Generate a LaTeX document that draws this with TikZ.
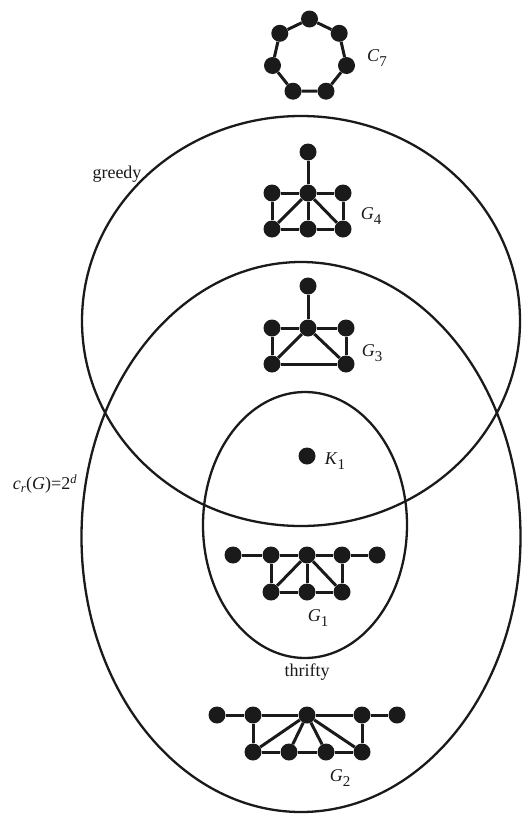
\documentclass[tikz,border=0pt]{standalone}
\usepackage{fontspec}
\setmainfont{Liberation Serif}
\definecolor{ink}{HTML}{1A1A1A}

% graph name with a lowered index
\newcommand{\gname}[2]{\textit{#1}\raisebox{-.6ex}{\fontsize{15}{15}\selectfont #2}}

\begin{document}
\begin{tikzpicture}[x=1pt,y=-1pt,
  every node/.style={text=ink,font=\fontsize{18}{21}\selectfont,inner sep=1pt},
  vtx/.style={circle,fill=ink,inner sep=0pt,minimum size=17pt},
  edge/.style={draw=ink,line width=3pt},
  region/.style={draw=ink,line width=2.3pt}]

\useasboundingbox (0,0) rectangle (522,814);

% -------------------------------------------------------------------------
% Regions: greedy, c_r(G)=2^d and thrifty.
% -------------------------------------------------------------------------
\draw[region] (301,321) ellipse [x radius=219pt, y radius=205pt];
\draw[region] (301,537) ellipse [x radius=219.5pt, y radius=275pt];
\draw[region] (305,525) ellipse [x radius=102pt, y radius=133pt];
\node (greedy)  at (117,174) {greedy};
\node (thrifty) at (307,672) {thrifty};
\node (cr)      at (45,484)
  {\textit{c}\textsubscript{\textit{r}}(\textit{G})=2\textsuperscript{\textit{d}}};

% -------------------------------------------------------------------------
% C_7, outside every region.
% -------------------------------------------------------------------------
\node[vtx] (c1) at (309.5,19) {};
\node[vtx] (c2) at (339.2,33.3) {};
\node[vtx] (c3) at (346.5,65.5) {};
\node[vtx] (c4) at (326,91.2) {};
\node[vtx] (c5) at (293,91.2) {};
\node[vtx] (c6) at (272.5,65.5) {};
\node[vtx] (c7) at (279.8,33.3) {};
\draw[edge] (c1) -- (c2) -- (c3) -- (c4) -- (c5) -- (c6) -- (c7) -- (c1);
\node (lc7) at (377,58) {\gname{C}{7}};

% -------------------------------------------------------------------------
% G_4 (greedy only) and G_3 (greedy and 2^d).
% -------------------------------------------------------------------------
\node[vtx] (a0) at (308,152) {};
\node[vtx] (a1) at (272,193) {};
\node[vtx] (a2) at (308,193) {};
\node[vtx] (a3) at (343,193) {};
\node[vtx] (a4) at (272,229) {};
\node[vtx] (a5) at (308,229) {};
\node[vtx] (a6) at (343,229) {};
\draw[edge] (a0) -- (a2);
\draw[edge] (a1) -- (a2) -- (a3);
\draw[edge] (a4) -- (a5) -- (a6);
\draw[edge] (a1) -- (a4);
\draw[edge] (a3) -- (a6);
\draw[edge] (a2) -- (a4);
\draw[edge] (a2) -- (a5);
\draw[edge] (a2) -- (a6);
\node (lg4) at (371,216) {\gname{G}{4}};

\node[vtx] (b0) at (308,286) {};
\node[vtx] (b1) at (272,328) {};
\node[vtx] (b2) at (308,328) {};
\node[vtx] (b3) at (346,328) {};
\node[vtx] (b4) at (272,364) {};
\node[vtx] (b5) at (346,364) {};
\draw[edge] (b0) -- (b2);
\draw[edge] (b1) -- (b2) -- (b3);
\draw[edge] (b1) -- (b4) -- (b5) -- (b3);
\draw[edge] (b2) -- (b4);
\draw[edge] (b2) -- (b5);
\node (lg3) at (372,353) {\gname{G}{3}};

% -------------------------------------------------------------------------
% K_1 and G_1 (thrifty), G_2 (2^d only).
% -------------------------------------------------------------------------
\node[vtx] (k) at (307,456) {};
\node (lk1) at (335,461) {\gname{K}{1}};

\node[vtx] (d1) at (233,555) {};
\node[vtx] (d2) at (271,555) {};
\node[vtx] (d3) at (307,555) {};
\node[vtx] (d4) at (342,555) {};
\node[vtx] (d5) at (377,555) {};
\node[vtx] (d6) at (271,592) {};
\node[vtx] (d7) at (307,592) {};
\node[vtx] (d8) at (342,592) {};
\draw[edge] (d1) -- (d2) -- (d3) -- (d4) -- (d5);
\draw[edge] (d6) -- (d7) -- (d8);
\draw[edge] (d2) -- (d6);
\draw[edge] (d4) -- (d8);
\draw[edge] (d3) -- (d6);
\draw[edge] (d3) -- (d7);
\draw[edge] (d3) -- (d8);
\node (lg1) at (318,618) {\gname{G}{1}};

\node[vtx] (e1) at (217,715) {};
\node[vtx] (e2) at (253,715) {};
\node[vtx] (e3) at (307,715) {};
\node[vtx] (e4) at (362,715) {};
\node[vtx] (e5) at (397,715) {};
\node[vtx] (e6) at (253,752) {};
\node[vtx] (e7) at (289,752) {};
\node[vtx] (e8) at (326,752) {};
\node[vtx] (e9) at (362,752) {};
\draw[edge] (e1) -- (e2) -- (e3) -- (e4) -- (e5);
\draw[edge] (e6) -- (e7) -- (e8) -- (e9);
\draw[edge] (e2) -- (e6);
\draw[edge] (e4) -- (e9);
\draw[edge] (e3) -- (e6);
\draw[edge] (e3) -- (e7);
\draw[edge] (e3) -- (e8);
\draw[edge] (e3) -- (e9);
\node (lg2) at (340,778) {\gname{G}{2}};
\end{tikzpicture}
\end{document}
